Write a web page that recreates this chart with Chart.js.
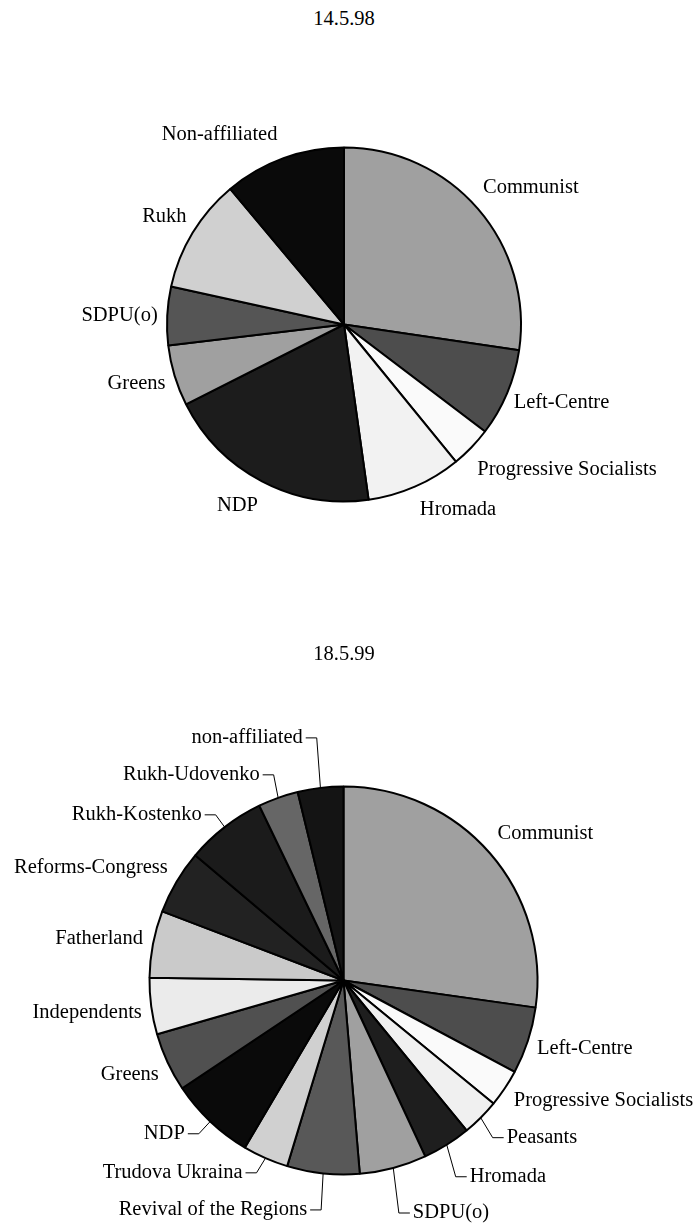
<!DOCTYPE html>
<html><head><meta charset="utf-8">
<script src="https://cdn.jsdelivr.net/npm/chart.js@4.4.1/dist/chart.umd.min.js"></script>
<style>
html,body{margin:0;padding:0;background:#fff;width:697px;height:1227px;overflow:hidden;position:relative;}
.title{position:absolute;left:0;width:688px;text-align:center;font-family:"Liberation Serif","Times New Roman",serif;font-size:20.5px;line-height:24px;color:#000;}
canvas{position:absolute;left:0;}
</style></head><body>
<div class="title" style="top:6px">14.5.98</div>
<canvas id="c1" width="697" height="649" style="top:0"></canvas>
<div class="title" style="top:641px">18.5.99</div>
<canvas id="c2" width="697" height="587" style="top:640px"></canvas>
<script>
// ---- data: 14.5.98 ----
const parties1998 = ["Communist","Left-Centre","Progressive Socialists","Hromada","NDP","Greens","SDPU(o)","Rukh","Non-affiliated"];
const seats1998 = [123,36,17,39,89,25,24,47,50];
// ---- data: 18.5.99 ----
const parties1999 = ["Communist","Left-Centre","Progressive Socialists","Peasants","Hromada","SDPU(o)","Revival of the Regions","Trudova Ukraina","NDP","Greens","Independents","Fatherland","Reforms-Congress","Rukh-Kostenko","Rukh-Udovenko","non-affiliated"];
const seats1999 = [122,25,14,14,18,25,27,17,32,22,21,25,24,30,15,17];

// ---- styles ----
const colors1998 = ["#a0a0a0","#4d4d4d","#fafafa","#f2f2f2","#1c1c1c","#a0a0a0","#555555","#d0d0d0","#0a0a0a"];
const colors1999 = ["#a0a0a0","#4d4d4d","#fafafa","#f0f0f0","#1e1e1e","#a0a0a0","#585858","#d0d0d0","#0a0a0a","#505050","#ebebeb","#cacaca","#222222","#1b1b1b","#666666","#141414"];
const labelNudge1998 = [[5,-21],[6.5,10],[6,22],[5,22.5],[-4,24.5],[-9,7.5],[-9.5,-0.7],[-6,-16.6],[-6,-24]];
const labelNudge1999 = [[7.6,-19.4],[9,8],[9,12.5],[26,20],[23,32],[19.6,45],[-16,36.5],[-23,14.7],[-25.4,12.3],[-8.7,12.6],[-9.4,6],[-10,-5],[-8.6,-14],[-23,-12.3],[-18.5,-23],[-17.7,-50]];
const leaders1999 = [false,false,false,true,true,true,true,true,true,false,false,false,false,true,true,true];

const FONT = '20.5px "Liberation Serif", "Times New Roman", serif';

const sliceLabels = {
  id:'sliceLabels',
  afterDatasetsDraw(chart, args, opts){
    const ctx = chart.ctx;
    const meta = chart.getDatasetMeta(0);
    const labels = chart.data.labels;
    ctx.save();
    ctx.font = FONT;
    ctx.fillStyle = '#000'; ctx.strokeStyle = '#000'; ctx.lineWidth = 1;
    ctx.textBaseline = 'middle';
    meta.data.forEach((arc,i)=>{
      const p = arc.getProps(['x','y','startAngle','endAngle','outerRadius'], true);
      const mid = (p.startAngle + p.endAngle)/2;
      const ax = p.x + Math.cos(mid)*p.outerRadius;
      const ay = p.y + Math.sin(mid)*p.outerRadius;
      const off = opts.offsets[i];
      const right = Math.cos(mid) >= 0;
      const tx = ax + off[0], ty = ay + off[1];
      ctx.textAlign = right ? 'left' : 'right';
      ctx.fillText(labels[i], tx, ty);
      if (opts.leaders && opts.leaders[i]) {
        const s = right ? -1 : 1;
        ctx.beginPath();
        ctx.moveTo(ax, ay);
        ctx.lineTo(tx + s*14, ty);
        ctx.lineTo(tx + s*3, ty);
        ctx.stroke();
      }
    });
    ctx.restore();
  }
};

function makePie(id, labels, values, colors, radius, padding, offsets, leaders){
  return new Chart(document.getElementById(id), {
    type:'pie',
    data:{labels:labels, datasets:[{data:values, backgroundColor:colors, borderColor:'#000', borderWidth:2}]},
    options:{
      responsive:false, animation:false, radius:radius,
      layout:{padding:padding},
      plugins:{legend:{display:false}, tooltip:{enabled:false}, title:{display:false},
        sliceLabels:{offsets:offsets, leaders:leaders}}
    },
    plugins:[sliceLabels]
  });
}

makePie('c1', parties1998, seats1998, colors1998, 177, {left:0,right:9,top:0,bottom:0}, labelNudge1998, null);
makePie('c2', parties1999, seats1999, colors1999, 194, {left:0,right:10,top:94,bottom:0}, labelNudge1999, leaders1999);
</script>
</body></html>
